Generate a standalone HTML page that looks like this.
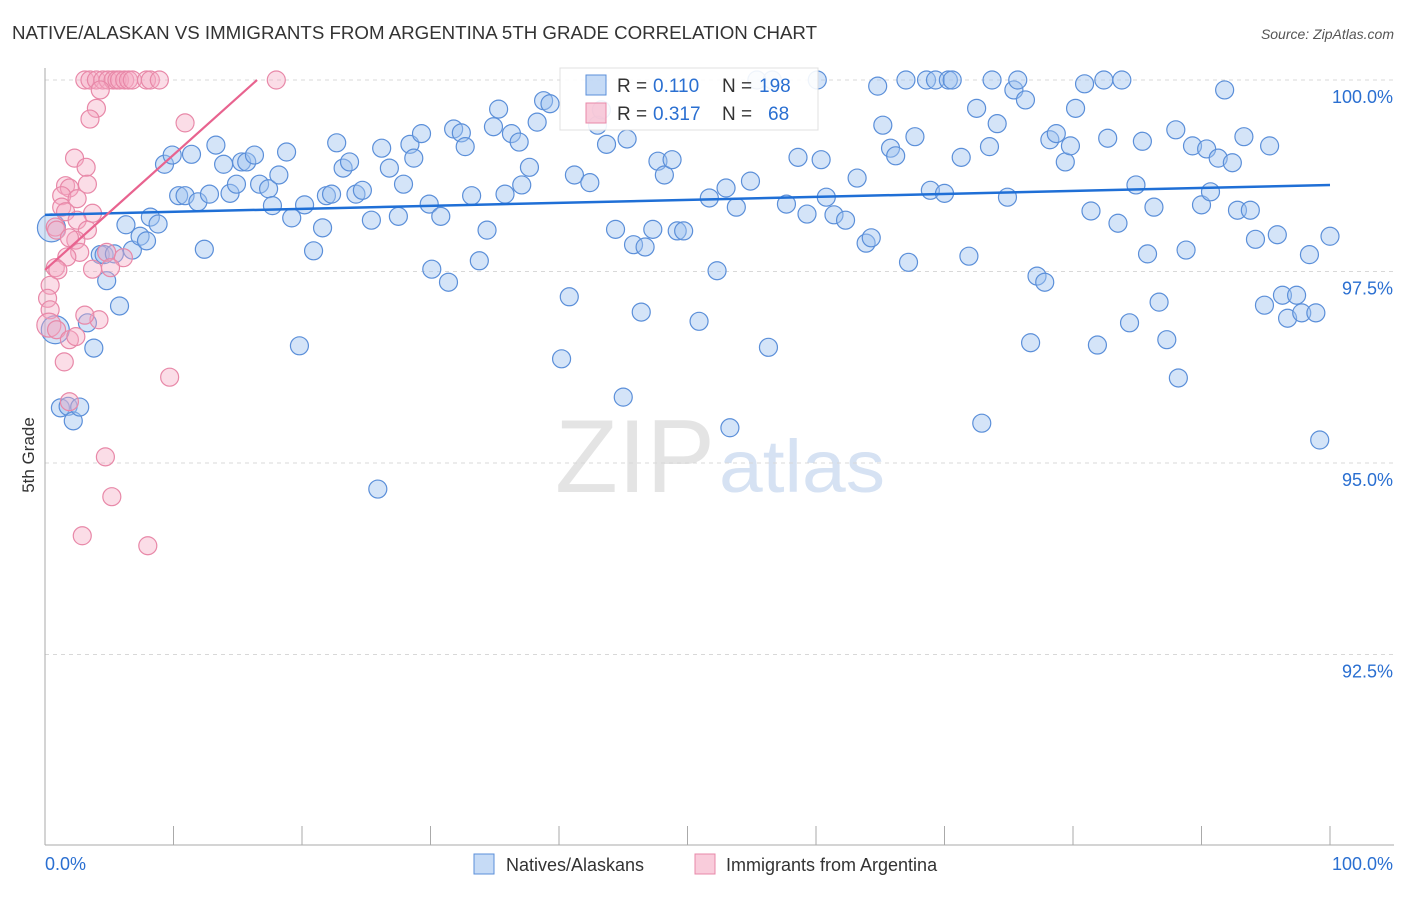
<!DOCTYPE html>
<html><head><meta charset="utf-8">
<style>
body{margin:0;background:#fff;font-family:"Liberation Sans",sans-serif;}
svg text{font-family:"Liberation Sans",sans-serif;}
</style></head>
<body>
<svg id="chart" width="1406" height="892">
<text x="12" y="39" font-size="18" fill="#333" textLength="805" lengthAdjust="spacingAndGlyphs">NATIVE/ALASKAN VS IMMIGRANTS FROM ARGENTINA 5TH GRADE CORRELATION CHART</text>
<text x="1394" y="39" font-size="14" fill="#555" text-anchor="end" font-style="italic">Source: ZipAtlas.com</text>
<text x="555" y="492" font-size="104" fill="#e4e4e4" textLength="160" lengthAdjust="spacingAndGlyphs" font-family="Liberation Serif">ZIP</text>
<text x="719" y="492" font-size="74" fill="#d6e2f3" textLength="166" lengthAdjust="spacingAndGlyphs">atlas</text>
<g id="grid"></g><g id="axes"></g><g id="pts"></g><g id="lines"></g>
<text x="34" y="455" font-size="17" fill="#333" transform="rotate(-90 34 455)" text-anchor="middle">5th Grade</text>
<g>
<rect x="560" y="68" width="258" height="62" fill="#fff" stroke="#ddd" opacity="0.9"/>
<rect x="586" y="75" width="20" height="20" fill="rgba(160,195,240,0.6)" stroke="#5b8fd9"/>
<rect x="586" y="103" width="20" height="20" fill="rgba(245,170,195,0.6)" stroke="#e888a8"/>
<text x="617" y="92" font-size="19" fill="#333">R =</text>
<text x="653" y="92" font-size="19" fill="#2a6fd1">0.110</text>
<text x="722" y="92" font-size="19" fill="#333">N =</text>
<text x="759" y="92" font-size="19" fill="#2a6fd1">198</text>
<text x="617" y="120" font-size="19" fill="#333">R =</text>
<text x="653" y="120" font-size="19" fill="#2a6fd1">0.317</text>
<text x="722" y="120" font-size="19" fill="#333">N =</text>
<text x="768" y="120" font-size="19" fill="#2a6fd1">68</text>
</g>
<g>
<rect x="474" y="854" width="20" height="20" fill="rgba(160,195,240,0.6)" stroke="#5b8fd9"/>
<text x="506" y="871" font-size="18" fill="#333">Natives/Alaskans</text>
<rect x="695" y="854" width="20" height="20" fill="rgba(245,170,195,0.6)" stroke="#e888a8"/>
<text x="726" y="871" font-size="18" fill="#333">Immigrants from Argentina</text>
</g>
</svg>
<script>
const yTicks=[100,97.5,95,92.5];
const yTickLabels=["100.0%","97.5%","95.0%","92.5%"];
const xTickLabels=["0.0%","100.0%"];
const blueX=[0.5,0.8,1.2,1.8,2.2,2.7,3.3,3.8,4.3,4.6,4.8,5.4,5.8,6.3,6.8,7.4,7.9,8.2,8.8,9.3,9.9,10.4,10.9,11.4,11.9,12.4,12.8,13.3,13.9,14.4,14.9,15.3,15.7,16.3,16.7,17.4,17.7,18.2,18.8,19.2,19.8,20.2,20.9,21.6,21.9,22.3,22.7,23.2,23.7,24.2,24.7,25.4,25.9,26.2,26.8,27.5,27.9,28.4,28.7,29.3,29.9,30.1,30.8,31.4,31.8,32.4,32.7,33.2,33.8,34.4,34.9,35.3,35.8,36.3,36.9,37.1,37.7,38.3,38.8,39.3,40.2,40.8,41.2,42.4,43.0,43.3,43.7,44.4,45.0,45.3,45.8,46.4,46.7,47.3,47.7,48.2,48.8,49.2,49.7,50.9,51.7,52.3,53.0,53.3,53.8,54.9,55.4,56.3,56.6,57.7,58.6,59.3,60.1,60.4,60.8,61.4,62.3,63.2,63.9,64.3,64.8,65.2,65.8,66.2,67.0,67.2,67.7,68.6,68.9,69.3,70.0,70.3,70.6,71.3,71.9,72.5,72.9,73.5,73.7,74.1,74.9,75.4,75.7,76.3,76.7,77.2,77.8,78.2,78.7,79.4,79.8,80.2,80.9,81.4,81.9,82.4,82.7,83.5,83.8,84.4,84.9,85.4,85.8,86.3,86.7,87.3,88.0,88.2,88.8,89.3,90.0,90.4,90.7,91.3,91.8,92.4,92.8,93.3,93.8,94.2,94.9,95.3,95.9,96.3,96.7,97.4,97.8,98.4,98.9,99.2,100.0];
const blueY=[98.07,96.74,95.72,95.74,95.55,95.73,96.83,96.50,97.72,97.72,97.38,97.73,97.05,98.11,97.78,97.96,97.90,98.21,98.12,98.90,99.02,98.49,98.49,99.03,98.41,97.79,98.51,99.15,98.90,98.52,98.64,98.93,98.93,99.02,98.64,98.58,98.36,98.76,99.06,98.20,96.53,98.37,97.77,98.07,98.49,98.51,99.18,98.85,98.93,98.51,98.56,98.17,94.66,99.11,98.85,98.22,98.64,99.16,98.98,99.30,98.38,97.53,98.22,97.36,99.36,99.31,99.13,98.49,97.64,98.04,99.39,99.62,98.51,99.30,99.19,98.63,98.86,99.45,99.73,99.69,96.36,97.17,98.76,98.66,99.41,99.61,99.16,98.05,95.86,99.23,97.85,96.97,97.82,98.05,98.94,98.76,98.96,98.03,98.03,96.85,98.46,97.51,98.59,95.46,98.34,98.68,100,96.51,100,98.38,98.99,98.25,100,98.96,98.47,98.24,98.17,98.72,97.87,97.94,99.92,99.41,99.11,99.01,100,97.62,99.26,100,98.56,100,98.52,100,100,98.99,97.70,99.63,95.52,99.13,100,99.43,98.47,99.87,100,99.74,96.57,97.44,97.36,99.22,99.30,98.93,99.14,99.63,99.95,98.29,96.54,100,99.24,98.13,100,96.83,98.63,99.20,97.73,98.34,97.10,96.61,99.35,96.11,97.78,99.14,98.37,99.10,98.54,98.98,99.87,98.92,98.30,99.26,98.30,97.92,97.06,99.14,97.98,97.19,96.89,97.19,96.96,97.72,96.96,95.30,97.96];
const pinkX=[3.1,3.5,4.0,4.5,4.9,5.3,5.6,5.8,6.2,6.5,6.8,7.9,8.2,8.9,18.0,4.3,4.0,3.5,10.9,2.3,3.2,3.3,1.6,1.9,1.3,1.3,2.5,1.6,3.7,2.5,0.8,0.9,3.3,2.4,1.9,2.7,1.7,4.8,6.1,3.7,5.1,0.8,1.0,0.4,0.2,0.4,0.3,0.9,1.9,2.4,1.5,4.2,3.1,9.7,1.9,4.7,5.2,2.9,8.0];
const pinkY=[100,100,100,100,100,100,100,100,100,100,100,100,100,100,100,99.87,99.63,99.49,99.44,98.98,98.86,98.64,98.62,98.59,98.49,98.34,98.45,98.28,98.26,98.17,98.08,98.04,98.04,97.91,97.94,97.75,97.69,97.75,97.68,97.53,97.55,97.55,97.52,97.32,97.15,97.00,96.80,96.74,96.61,96.65,96.32,96.87,96.93,96.12,95.80,95.08,94.56,94.05,93.92];
const blueTrend=[98.24,98.63];
const pinkTrend=[97.52,100,16.5];
const NS="http://www.w3.org/2000/svg";
const X0=45,X1=1330,Y100=80,PXPER=76.6,YBOT=845;
function sx(v){return X0+(X1-X0)*v/100;}
function sy(v){return Y100+(100-v)*PXPER;}
function mk(tag,attrs,parent){const e=document.createElementNS(NS,tag);for(const k in attrs)e.setAttribute(k,attrs[k]);parent.appendChild(e);return e;}
const grid=document.getElementById('grid'),axes=document.getElementById('axes'),pts=document.getElementById('pts'),lines=document.getElementById('lines');
yTicks.forEach((t,i)=>{
 const l=mk('line',{x1:X0,x2:1394,y1:sy(t),y2:sy(t),stroke:'#d8d8d8','stroke-dasharray':'4,4'},grid);
 
 
 const tx=mk('text',{x:1393,y:sy(t)+23,'font-size':18,fill:'#2a6fd1','text-anchor':'end'},grid);
 tx.textContent=yTickLabels[i];
 
 
});
const ya=mk('line',{x1:X0,x2:X0,y1:68,y2:YBOT,stroke:'#aaa'},axes);


const xa=mk('line',{x1:X0,x2:1394,y1:YBOT,y2:YBOT,stroke:'#aaa'},axes);


for(let i=0;i<=10;i++){
 const t=mk('line',{x1:sx(i*10),x2:sx(i*10),y1:826,y2:YBOT,stroke:'#aaa'},axes);
 
 
}
[[0,'start',45],[100,'end',1393]].forEach((d,i)=>{
 const tx=mk('text',{x:d[2],y:870,'font-size':18,fill:'#2a6fd1','text-anchor':d[1]},axes);
 tx.textContent=xTickLabels[i];
 
 
});
blueX.forEach((x,i)=>{
 const c=mk('circle',{cx:sx(x),cy:sy(blueY[i]),r:i<2?14:9,fill:'rgba(160,195,240,0.45)',stroke:'#5b8fd9','stroke-width':1.2},pts);
 
 
});
pinkX.forEach((x,i)=>{
 const c=mk('circle',{cx:sx(x),cy:sy(pinkY[i]),r:(i==46)?12:9,fill:'rgba(245,170,195,0.4)',stroke:'#e888a8','stroke-width':1.2},pts);
 
 
});
const bl=mk('line',{x1:sx(0),y1:sy(blueTrend[0]),x2:sx(100),y2:sy(blueTrend[1]),stroke:'#1f6fd6','stroke-width':2.5},lines);


const pl=mk('line',{x1:sx(0),y1:sy(pinkTrend[0]),x2:sx(pinkTrend[2]),y2:sy(pinkTrend[1]),stroke:'#e8638f','stroke-width':2.2},lines);


</script>
</body></html>
